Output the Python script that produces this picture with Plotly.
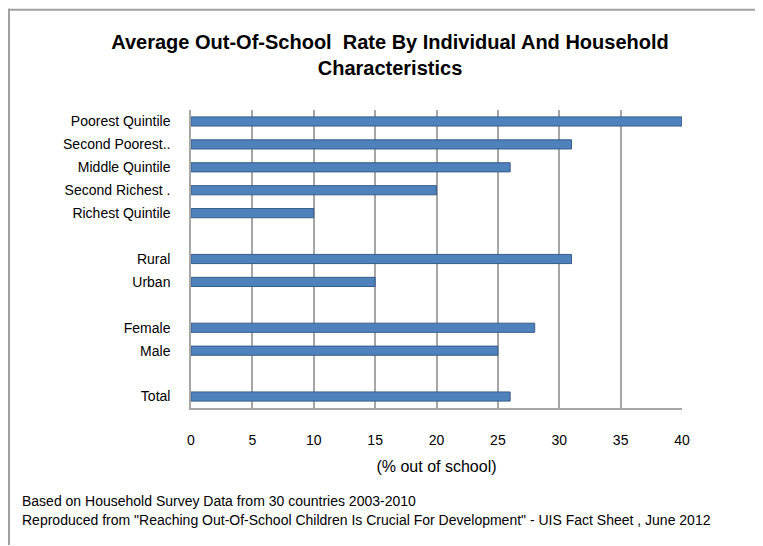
import plotly.graph_objects as go

# ---- data ----
group_labels = [
    ["Poorest Quintile", "Second Poorest..", "Middle Quintile", "Second Richest .", "Richest Quintile"],
    ["Rural", "Urban"],
    ["Female", "Male"],
    ["Total"],
]
group_values = [
    [40, 31, 26, 20, 10],
    [31, 15],
    [28, 25],
    [26],
]
x_ticks = [0, 5, 10, 15, 20, 25, 30, 35, 40]

title_text = "Average Out-Of-School  Rate By Individual And Household<br>Characteristics"
x_title = "(% out of school)"
note1 = "Based on Household Survey Data from 30 countries 2003-2010"
note2 = ("Reproduced from \"Reaching Out-Of-School Children Is Crucial For Development\" "
         "- UIS Fact Sheet , June 2012")

# build row positions with a blank row between groups
labels, values, rows = [], [], []
r = 0
for gi, (gl, gv) in enumerate(zip(group_labels, group_values)):
    for lab, val in zip(gl, gv):
        labels.append(lab)
        values.append(val)
        rows.append(r)
        r += 1
    if gi < len(group_labels) - 1:
        r += 1
n_rows = r

FONT = "Liberation Sans, Arial, sans-serif"
W, H = 755, 538
L, R, T, B = 183, 81, 101.5, 137.5
pw, ph = W - L - R, H - T - B

def px_x(px):
    return (px - L) / pw

def px_y(py):
    return 1 - (py - T) / ph

fig = go.Figure()
fig.add_trace(go.Bar(
    x=values, y=rows, orientation="h",
    width=0.4,
    marker=dict(color="#4F81BD", line=dict(color="#385D8A", width=1)),
    hoverinfo="x+text", text=labels, textposition="none",
))

fig.update_layout(
    width=W, height=H,
    margin=dict(l=L, r=R, t=T, b=B),
    paper_bgcolor="white", plot_bgcolor="white",
    showlegend=False,
    font=dict(family=FONT, size=14, color="black"),
    title=dict(text="<b>" + title_text + "</b>", x=382 / W, xref="container", xanchor="center",
               y=1 - 41 / H, yanchor="top", yref="container",
               font=dict(family=FONT, size=20, color="black")),
    xaxis=dict(
        range=[0, 40], tickvals=x_ticks, ticktext=[str(v) for v in x_ticks],
        showgrid=True, gridcolor="#A6A6A6", gridwidth=1.5,
        showline=True, linecolor="#A6A6A6", linewidth=1.5,
        zeroline=False, ticks="", ticklabelstandoff=18,
        tickfont=dict(family=FONT, size=14),
        title=dict(text=x_title, font=dict(family=FONT, size=16), standoff=14),
        fixedrange=True,
    ),
    yaxis=dict(
        range=[n_rows - 0.5, -0.5],
        tickvals=rows, ticktext=labels,
        showgrid=False, zeroline=False,
        showline=True, linecolor="#A6A6A6", linewidth=1.5,
        ticks="", ticklabelstandoff=16,
        tickfont=dict(family=FONT, size=14),
        fixedrange=True,
    ),
    shapes=[
        dict(type="line", xref="paper", yref="paper",
             x0=px_x(0), x1=px_x(W), y0=px_y(1), y1=px_y(1),
             line=dict(color="#A0A0A0", width=2)),
        dict(type="line", xref="paper", yref="paper",
             x0=px_x(1), x1=px_x(1), y0=px_y(0), y1=px_y(H),
             line=dict(color="#A0A0A0", width=2)),
    ],
    annotations=[
        dict(text=note1, xref="paper", yref="paper", x=px_x(12), y=px_y(494),
             xanchor="left", yanchor="middle", showarrow=False,
             font=dict(family=FONT, size=14)),
        dict(text=note2, xref="paper", yref="paper", x=px_x(12), y=px_y(513),
             xanchor="left", yanchor="middle", showarrow=False,
             font=dict(family=FONT, size=14)),
    ],
)

fig.write_html("out.html")
